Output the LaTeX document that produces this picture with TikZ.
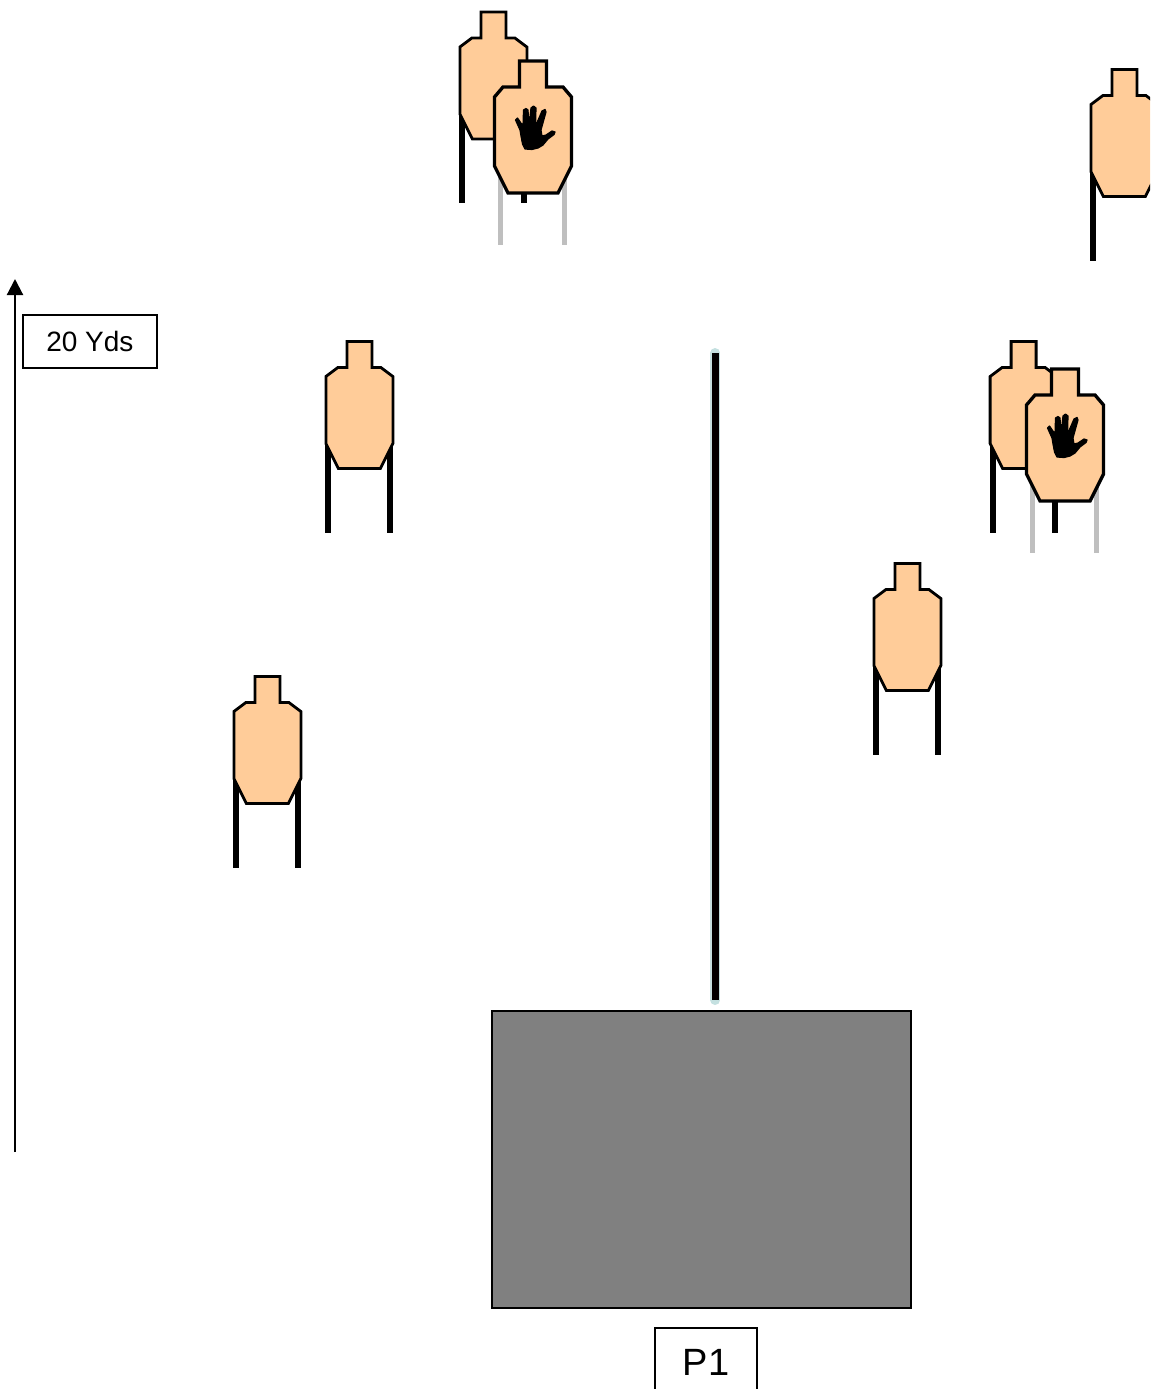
\documentclass[tikz,border=0pt]{standalone}
\usepackage{xcolor}
\usepackage{fontspec}
\setmainfont{Liberation Sans}
\usetikzlibrary{positioning, arrows.meta}
\definecolor{targetskin}{HTML}{FFCC99}
\definecolor{standgray}{HTML}{BFBFBF}
\definecolor{bermgray}{HTML}{808080}
\definecolor{wallglow}{HTML}{C4E0E0}
\tikzset{
    x=0.75pt, y=-0.75pt,
    labelbox/.style={draw=black, line width=1.6pt, fill=white, inner sep=0pt},
    standleg/.style={line width=4.5pt},
    handshape/.style={fill=black, draw=black, line width=0.9pt, line join=round},
    pics/shoottarget/.style={code={
        \draw[standleg] (-31,100) -- (-31,191) (31,100) -- (31,191);
        \draw[fill=targetskin, line width=2.1pt, line join=miter]
            (-12.5,0) -- (12.5,0) -- (12.5,26) -- (21.5,26) -- (33.5,35) -- (33.5,102)
            -- (21,127) -- (-21,127) -- (-33.5,102) -- (-33.5,35) -- (-21.5,26)
            -- (-12.5,26) -- cycle;
    }},
    pics/noshoottarget/.style={code={
        \draw[standleg, standgray, line width=3.6pt] (-32.5,100) -- (-32.5,184) (31.5,100) -- (31.5,184);
        \draw[fill=targetskin, line width=2.5pt, line join=miter]
            (-13.5,0) -- (13.5,0) -- (13.5,26) -- (30,26) -- (38.5,36) -- (38.5,105)
            -- (25,132) -- (-25,132) -- (-38.5,105) -- (-38.5,36) -- (-30,26)
            -- (-13.5,26) -- cycle;
        \draw[handshape, shift={(-23,39)}]
            (5.5,20) -- (7.5,18) -- (13,26) -- (13.5,10) -- (16,8.5) -- (18,10) -- (19,26)
            -- (21,8) -- (23.5,6) -- (26,8) -- (25.5,26) -- (32,11) -- (35,9.5) -- (36,12)
            -- (31,30) -- (32,36) -- (36,35) -- (42,31) -- (45,32) -- (44,34.5) -- (38,39)
            -- (33,45) -- (28,48) -- (22,49.5) -- (15,49) -- (12.5,44) -- (11,36) -- (10,30) -- cycle;
    }},
}
\begin{document}
\begin{tikzpicture}
    \clip (0,0) rectangle (1150,1389);
    \foreach \tx/\ty in {493.4/12, 359.4/341.5, 267.4/676.5, 907.4/563.5, 1124.4/69.5, 1023.6/341.5}
        \pic at (\tx,\ty) {shoottarget};
    \foreach \tx/\ty in {533/61, 1065/369}
        \pic at (\tx,\ty) {noshoottarget};

    \coordinate (walltop) at (715.3,353);
    \coordinate (wallbase) at (715.3,1000);
    \draw[wallglow, line width=7.5pt, line cap=round] (walltop) -- (wallbase);
    \draw[black, line width=5.5pt] (walltop) -- (wallbase);

    \node[draw=black, fill=bermgray, line width=1.5pt, minimum width=314.7pt, minimum height=222.6pt,
          inner sep=0pt, anchor=north west] (berm) at (490.5,1010) {};
    \node[labelbox, minimum width=76.3pt, minimum height=52.5pt, font=\fontsize{28.5}{32}\selectfont,
          anchor=north] (position) at (706,1326.5) {P1};

    \coordinate (scalestart) at (15,1152);
    \coordinate (scaleend) at (15,279);
    \draw[-{Triangle[length=12pt, width=12pt]}, line width=1.6pt] (scalestart) -- (scaleend);
    \node[labelbox, minimum width=101pt, minimum height=39.6pt, font=\fontsize{21}{24}\selectfont,
          anchor=north west] (scalelabel) at (21.5,314) {20 Yds};
\end{tikzpicture}
\end{document}
